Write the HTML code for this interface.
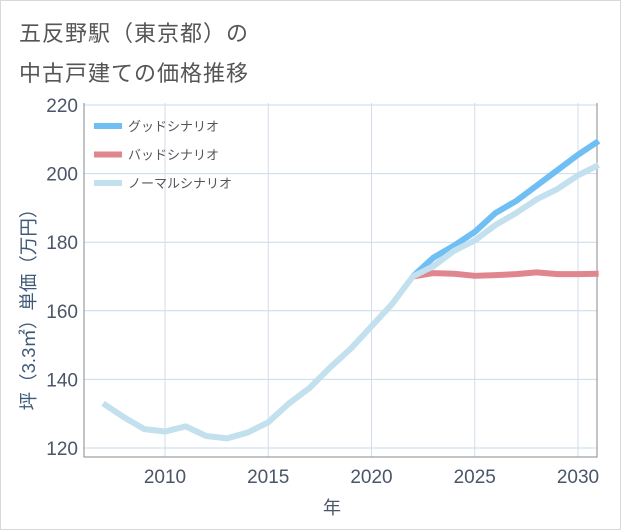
<!DOCTYPE html>
<html><head><meta charset="utf-8"><style>
body{margin:0;background:#fff;}
#wrap{position:relative;width:619px;height:528px;border:1px solid #d8d8d8;background:#fff;font-family:"Liberation Sans","Noto Sans CJK JP",sans-serif;}
.title{position:absolute;left:18px;font-size:22px;color:#555;letter-spacing:1px;}
</style></head><body>
<div id="wrap">
<div class="title" style="top:15px">五反野駅（東京都）の</div>
<div class="title" style="top:55px">中古戸建ての価格推移</div>
<svg id="chart" width="621" height="530" style="position:absolute;left:-1px;top:-1px"></svg>
</div>
<script>
const years=[2007,2008,2009,2010,2011,2012,2013,2014,2015,2016,2017,2018,2019,2020,2021,2022,2023,2024,2025,2026,2027,2028,2029,2030,2031];
const normalValues=[133,129,125.5,124.8,126.3,123.5,122.8,124.5,127.5,133,137.5,143.5,149,155.5,162,170,173,177.5,180.5,185,188.5,192.5,195.5,199.5,202.5];
const goodYears=[2022,2023,2024,2025,2026,2027,2028,2029,2030,2031];
const goodValues=[170,175.5,179,183,188.5,192,196.5,201,205.5,209.5];
const badYears=[2022,2023,2024,2025,2026,2027,2028,2029,2030,2031];
const badValues=[170,171,170.8,170.2,170.4,170.7,171.2,170.7,170.7,170.8];
const xTicks=[2010,2015,2020,2025,2030];
const yTicks=[120,140,160,180,200,220];
const legendLabels=["グッドシナリオ","バッドシナリオ","ノーマルシナリオ"];

const L=84,R=597,T=103,B=457;
const x=v=>165+(v-2010)*20.65;
const y=v=>448-(v-120)*3.43;
const svg=document.getElementById('chart');
const NS='http://www.w3.org/2000/svg';
function mk(tag,attrs){const e=document.createElementNS(NS,tag);for(const k in attrs)e.setAttribute(k,attrs[k]);svg.appendChild(e);return e;}
yTicks.forEach(t=>{
 const g=mk('line',{x1:L,x2:R,y1:y(t),y2:y(t),stroke:'#c4dbec','stroke-width':1});
 
 
 const tx=mk('text',{x:L-6,y:y(t)+7,'text-anchor':'end','font-size':19,fill:'#4a5568'});
 tx.textContent=t;
 
 
});
xTicks.forEach(t=>{
 const g=mk('line',{x1:x(t),x2:x(t),y1:T,y2:B,stroke:'#d2dde8','stroke-width':1});
 
 
 const tx=mk('text',{x:x(t),y:B+26,'text-anchor':'middle','font-size':19,fill:'#4a5568'});
 tx.textContent=t;
 
 
});
const ax=mk('path',{d:`M${L},${T}V${B}H${R}V${T}`,fill:'none',stroke:'#8a8a8a','stroke-width':1});


function line(xs,vs,color,name){
 const p=mk('polyline',{points:xs.map((d,i)=>x(d)+','+y(vs[i])).join(' '),fill:'none',stroke:color,'stroke-width':6,'stroke-linejoin':'round'});
 
 
}
line(badYears,badValues,'#e0868e','bad-scenario-line');
line(goodYears,goodValues,'#6fbff5','good-scenario-line');
line(years,normalValues,'#c2e0ee','normal-scenario-line');
const colors=['#6fbff5','#e0868e','#c2e0ee'];
legendLabels.forEach((lb,i)=>{
 const yy=126+i*28.5;
 const l=mk('line',{x1:94,x2:122,y1:yy,y2:yy,stroke:colors[i],'stroke-width':6});
 
 
 const t=mk('text',{x:128,y:yy+5,'font-size':13,fill:'#555'});
 t.textContent=lb;
 
 
});
const xt=mk('text',{x:332,y:514,'text-anchor':'middle','font-size':18,fill:'#4a5568'});
xt.textContent='年';


const yt=mk('text',{x:0,y:0,'text-anchor':'middle','font-size':18.5,fill:'#3f5a78',transform:'translate(35,305) rotate(-90)'});
yt.textContent='坪（3.3㎡）単価（万円）';


</script>
</body></html>
